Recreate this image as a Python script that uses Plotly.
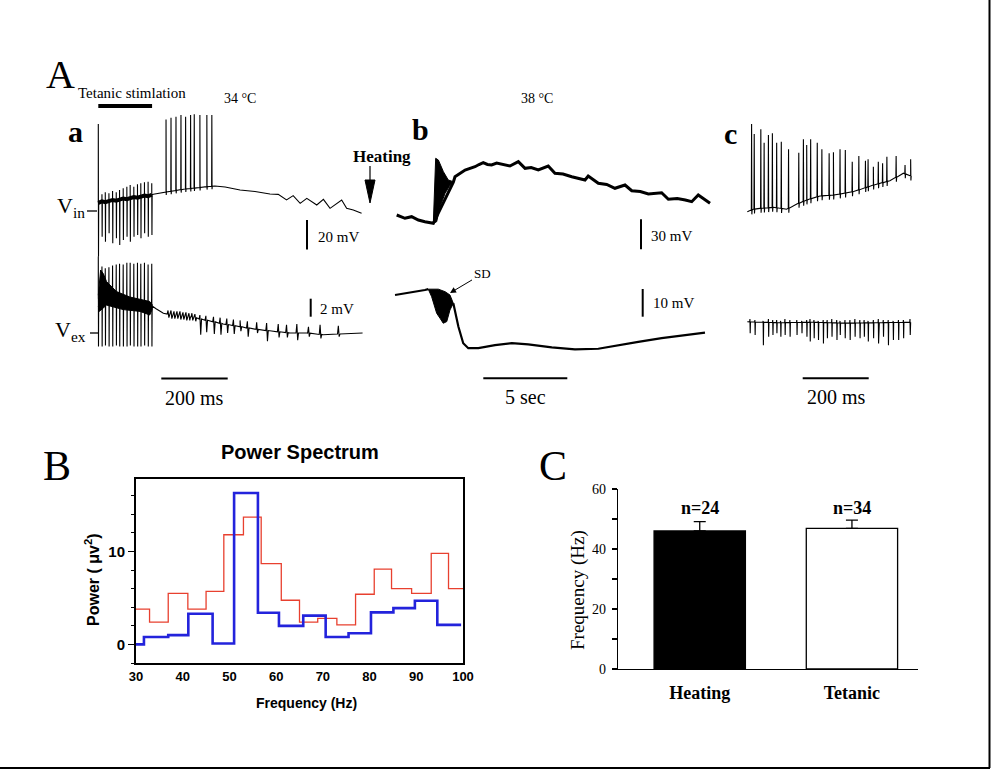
import numpy as np
import plotly.graph_objects as go

W, H = 992, 770
SERIF = "Liberation Serif"
SANS = "Liberation Sans"

# ---------------- Panel A, a : 34 C, tetanic stimulation ----------------
# time in ms, voltage in mV (relative)
stim_t = [0, 11, 21, 32, 43, 54, 64, 75, 86, 96, 107, 118, 128, 139, 150, 161]
stim_base_vin = [5.5, 6.5, 6.0, 7.0, 7.5, 7.0, 8.0, 8.5, 8.0, 9.0, 9.5, 9.0, 10.0, 10.5, 10.0, 11.0]
stim_up_vin = [59, 11.3, 12.7, 12.0, 13.6, 12.7, 14.2, 15.4, 16.5, 17.6, 16.5, 18.1, 18.8, 19.5, 19.9, 18.8]
stim_dn_vin = [-31, -17.4, -20.8, -15.1, -21.9, -18.5, -23.1, -19.7, -17.4, -20.8, -17.4, -16.3, -18.5, -15.1, -17.4, -16.3]
ap_t_a = [204, 219, 234, 249, 263, 278, 289, 306, 327, 342]
ap_peak_a = [62, 63.3, 63.9, 65.1, 63.9, 65.1, 65.6, 65.1, 65.1, 65.1]
vin_a_t = [166, 204, 261, 306, 327, 351, 382, 427, 472, 517, 542, 567, 587, 608, 628, 658, 678, 698, 733, 748, 768, 793]
vin_a_v = [11.3, 12.9, 14.9, 15.9, 16.5, 16.9, 16.3, 14.2, 13.2, 11.5, 11.3, 7.5, 10.4, 5.2, 8.6, 4.1, 7.9, 1.8, 7.5, 1.8, 0.7, -1.6]

band_up_t = [0, 7, 15, 25, 55, 95, 155, 162]
band_up_v = [4.2, 7.0, 6.6, 5.7, 4.6, 4.0, 3.5, 3.2]
band_lo_t = [0, 3, 25, 75, 126, 155, 162]
band_lo_v = [3.0, 2.4, 3.1, 2.6, 2.4, 2.0, 2.6]
vex_a_t = [0, 40, 80, 120, 162, 174, 196, 226, 276, 327, 376, 427, 475, 526, 577, 628, 677, 728, 796]
vex_a_v = [3.8, 3.8, 3.3, 3.0, 3.0, 2.7, 2.2, 2.0, 1.8, 1.4, 1.0, 0.7, 0.4, 0.2, 0.0, 0.0, -0.2, -0.1, 0.0]
stim_up_vex = [8.5, 7.4, 7.2, 7.3, 7.5, 7.6, 7.7, 7.6, 7.8, 7.8, 7.7, 7.8, 7.7, 7.8, 7.6, 7.7]
stim_dn_vex = [-1.5, -1.5, -1.4, -1.5, -1.5, -1.4, -1.5, -1.5, -1.5, -1.4, -1.5, -1.5, -1.5, -1.4, -1.5, -1.5]
rip_t = [210, 219, 228, 237, 246, 255, 264, 273, 282, 291]
rip_up = [2.5, 2.5, 2.4, 2.4, 2.4, 2.3, 2.3, 2.2, 2.2, 2.1]
rip_dn = [1.7, 1.6, 1.6, 1.6, 1.5, 1.5, 1.4, 1.4, 1.4, 1.3]
exsp_t = [306, 324, 347, 367, 387, 407, 427, 449, 477, 507, 542, 567, 598, 633, 668, 723]
exsp_up = [2.0, 1.9, 1.8, 1.7, 1.6, 1.5, 1.4, 1.3, 1.2, 1.1, 1.0, 0.9, 1.0, 0.7, 0.9, 0.8]
exsp_dn = [-0.2, 0.1, -0.1, -0.2, 0.0, -0.1, 0.2, -0.4, 0.0, -0.9, -0.5, -0.5, -0.8, -0.4, -0.6, -0.4]

# ---------------- Panel A, b : 38 C, heating (time in s) ----------------
bvin_t = [0, 0.49, 0.89, 1.29, 1.68, 2.18, 3.37, 3.47, 4.07, 4.66, 4.9, 5.15, 5.4, 5.65, 5.95, 6.25, 6.5, 6.74,
          7.24, 7.64, 8.0, 8.43, 9.02, 9.42, 9.9, 10.42, 11.21, 11.40, 12.0, 12.5, 12.99, 13.59, 13.99, 14.5,
          14.98, 15.77, 16.17, 16.7, 17.18, 17.56, 17.95, 18.35, 18.65]
bvin_v = [8, 4.7, 6.3, 3, 1.3, -0.3, 40.8, 46.3, 53, 56.3, 58.5, 60.3, 58.5, 58, 60, 59, 58.5, 57,
          61.3, 54.7, 55.5, 53, 57, 49.7, 49, 46.3, 43, 47, 39.7, 38.5, 34.7, 38, 32.3, 31.5,
          29, 30.3, 23.7, 24.5, 23, 21.3, 28, 23, 19.7]
bvin_burst_top_t = [2.18, 2.32, 2.48, 2.78, 3.07, 3.37]
bvin_burst_top_v = [-0.3, 64.7, 63, 51.3, 43, 41.3]
bvin_burst_bot_t = [2.18, 2.38, 2.58, 2.88, 3.18, 3.37]
bvin_burst_bot_v = [-0.3, 1.3, 16.3, 29.7, 38, 40.3]

bvex_pre_t = [-0.1, 0.4, 0.89, 1.3, 1.68, 1.88]
bvex_pre_v = [0, 0.5, 0.8, 1.3, 1.8, 2.1]
bvex_burst_top_t = [1.88, 2.48, 2.88, 3.17, 3.37]
bvex_burst_top_v = [2.1, 2.1, 1.2, 0.0, -3.0]
bvex_burst_bot_t = [1.88, 2.08, 2.38, 2.58, 2.77, 2.98, 3.17, 3.37]
bvex_burst_bot_v = [2.1, -0.6, -6.6, -8.4, -10.2, -9.6, -5.4, -3.0]
bvex_post_t = [3.37, 3.67, 3.96, 4.26, 4.86, 5.85, 6.85, 7.83, 9.23, 10.61, 12.0, 13.19, 14.38, 15.77, 17.16, 18.35]
bvex_post_v = [-3.0, -11.4, -17.4, -19.2, -19.2, -18.1, -17.4, -17.8, -18.9, -19.6, -19.4, -18.1, -16.9, -15.6, -14.4, -13.6]

# ---------------- Panel A, c : tetanic (time in ms) ----------------
cvin_base_t = [0, 18, 38, 79, 119, 150, 180, 220, 261, 321, 382, 432, 473, 495]
cvin_base_v = [-0.5, 1.2, 1.8, 2.5, 1.2, 4.7, 7.5, 10.2, 10.8, 13.1, 17.6, 20.5, 25.6, 23.7]
cvin_sp_t = [13, 21, 41, 51, 64, 76, 89, 103, 125, 156, 170, 180, 192, 212, 226, 248, 261, 281, 297, 318,
             338, 358, 366, 382, 397, 410, 423, 451, 478, 495]
cvin_sp_v = [59, 52.2, 55.4, 46.3, 51.5, 52.7, 46.3, 47, 41.8, 39.5, 48.6, 44.7, 48.6, 46.3, 41.8, 39.1, 39.8,
             41.8, 41.4, 33.4, 37.3, 34.1, 35.1, 30, 33.4, 32.3, 36.8, 37.3, 31.2, 35.1]
cvex_base_t = [0, 100, 200, 300, 400, 495]
cvex_base_v = [0.1, 0.0, 0.05, -0.05, 0.0, 0.05]
cvex_sp_t = [8, 23, 48, 64, 77, 89, 101, 114, 129, 150, 165, 180, 190, 202, 215, 230, 242, 256, 271, 281,
             296, 311, 326, 341, 354, 366, 382, 397, 412, 427, 442, 458, 473, 493]
cvex_sp_up = [0.4, 0.3, 0.2, 0.4, 0.3, 0.3, 0.2, 0.4, 0.3, 0.3, 0.2, 0.3, 0.4, 0.3, 0.2, 0.3, 0.3, 0.4, 0.3,
              0.2, 0.3, 0.3, 0.4, 0.3, 0.3, 0.2, 0.3, 0.4, 0.3, 0.3, 0.2, 0.3, 0.3, 0.4]
cvex_sp_dn = [-1.18, -1.37, -2.5, -1.56, -1.37, -1.18, -1.56, -1.37, -1.56, -1.37, -1.18, -1.56, -2.1, -1.74,
              -1.92, -2.3, -1.74, -1.56, -1.92, -1.37, -1.74, -1.92, -1.56, -1.74, -1.56, -2.1, -1.74, -2.3,
              -1.56, -2.5, -1.92, -1.92, -1.74, -1.37]

# ---------------- Panel B : power spectrum ----------------
red_f = [30, 32.9, 36.9, 41.1, 45, 48.8, 53, 56.8, 61.1, 65, 68.9, 73, 77, 81, 84.7, 89, 93.2, 96.9, 100]
red_p = [3.8, 2.4, 5.5, 3.8, 5.7, 11.8, 13.7, 8.7, 4.75, 2.4, 2.8, 2.1, 5.4, 8.1, 6.0, 5.5, 9.8, 6.0, 6.0]
blue_f = [30, 31.7, 36.9, 41.2, 46.4, 51, 56.1, 60.6, 65.8, 70.6, 75.5, 80.3, 85.1, 89.7, 94.5, 99.6]
blue_p = [0, 0.8, 1.0, 3.3, 0.1, 16.3, 3.4, 2.0, 3.1, 0.8, 1.2, 3.45, 3.9, 4.7, 2.1, 2.1]

# ---------------- Panel C : frequency bars ----------------
c_cats = ["Heating", "Tetanic"]
c_mean = [46.0, 46.9]
c_err = [3.1, 2.7]
c_n = ["n=24", "n=34"]

# scale bar values
A_IN_MV, A_EX_MV, B_IN_MV, B_EX_MV = 20, 2, 30, 10
A_MS, B_S, C_MS = 200, 5, 200
TETANUS_MS = 162


# ---------------- helpers ----------------
def events_trace(base_t, base_v, ev_t, ev_hi, ev_lo, dt, ahp=2.0):
    pts = [(t, v, 0) for t, v in zip(base_t, base_v)]
    dts = dt if isinstance(dt, (list, tuple)) else [dt] * len(ev_t)
    for i, (t, hi) in enumerate(zip(ev_t, ev_hi)):
        b = float(np.interp(t, base_t, base_v))
        lo = ev_lo[i] if ev_lo is not None else b - ahp
        d = dts[i]
        pts += [(t - d, b, 1), (t, hi, 2), (t + d, lo, 3), (t + 2 * d, b, 4)]
    pts.sort(key=lambda p: (p[0], p[2]))
    return [p[0] for p in pts], [p[1] for p in pts]


# pixel geometry of the hidden trace axes: (origin px, px per unit)
AX_A = (98.3, 0.332); AY_AIN = (211, 1.475); AY_AEX = (333, 9.0)
AX_B = (396.7, 16.8); AY_BIN = (223, 1.0); AY_BEX = (295, 2.77)
AX_C = (747.3, 0.33); AY_CIN = (211, 1.475); AY_CEX = (322.7, 9.0)


def hax(px0, px1, ax, anchor):
    o, k = ax
    return dict(domain=[px0 / W, px1 / W], range=[(px0 - o) / k, (px1 - o) / k], visible=False,
                anchor=anchor, fixedrange=True, automargin=False)


def vax(py0, py1, ay, anchor):
    o, k = ay
    return dict(domain=[1 - py1 / H, 1 - py0 / H], range=[(o - py1) / k, (o - py0) / k], visible=False,
                anchor=anchor, fixedrange=True, automargin=False)


def dx(px, ax):
    return (px - ax[0]) / ax[1]


def dy(py, ay):
    return (ay[0] - py) / ay[1]


def PX(x):
    return x / W


def PY(y):
    return 1 - y / H


fig = go.Figure()

# a - Vin
ahp_lo = [float(v) - 2.0 for v in np.interp(ap_t_a, vin_a_t, vin_a_v)]
x, y = events_trace(stim_t + vin_a_t, stim_base_vin + vin_a_v,
                    stim_t + ap_t_a, stim_up_vin + ap_peak_a, stim_dn_vin + ahp_lo, 0.6)
fig.add_trace(go.Scatter(x=x, y=y, mode="lines", line=dict(color="black", width=1.1), xaxis="x", yaxis="y"))
fig.add_trace(go.Scatter(x=stim_t, y=stim_base_vin, mode="lines", line=dict(color="black", width=4),
                         xaxis="x", yaxis="y"))
# a - Vex
fig.add_trace(go.Scatter(x=band_up_t + band_lo_t[::-1], y=band_up_v + band_lo_v[::-1], fill="toself",
                         fillcolor="black", mode="lines", line=dict(color="black", width=1),
                         xaxis="x2", yaxis="y2"))
x, y = events_trace(vex_a_t, vex_a_v, stim_t + rip_t + exsp_t, stim_up_vex + rip_up + exsp_up,
                    stim_dn_vex + rip_dn + exsp_dn,
                    [0.6] * len(stim_t) + [2.5] * len(rip_t) + [2.5] * len(exsp_t))
fig.add_trace(go.Scatter(x=x, y=y, mode="lines", line=dict(color="black", width=1.1), xaxis="x2", yaxis="y2"))

# b - Vin
fig.add_trace(go.Scatter(x=bvin_t, y=bvin_v, mode="lines", line=dict(color="black", width=3),
                         xaxis="x3", yaxis="y3"))
fig.add_trace(go.Scatter(x=bvin_burst_top_t + bvin_burst_bot_t[::-1], y=bvin_burst_top_v + bvin_burst_bot_v[::-1],
                         fill="toself", fillcolor="black", mode="lines", line=dict(color="black", width=1),
                         xaxis="x3", yaxis="y3"))
# b - Vex
fig.add_trace(go.Scatter(x=bvex_pre_t, y=bvex_pre_v, mode="lines", line=dict(color="black", width=2.2),
                         xaxis="x4", yaxis="y4"))
fig.add_trace(go.Scatter(x=bvex_burst_top_t + bvex_burst_bot_t[::-1], y=bvex_burst_top_v + bvex_burst_bot_v[::-1],
                         fill="toself", fillcolor="black", mode="lines", line=dict(color="black", width=1),
                         xaxis="x4", yaxis="y4"))
fig.add_trace(go.Scatter(x=bvex_post_t, y=bvex_post_v, mode="lines", line=dict(color="black", width=2.2),
                         xaxis="x4", yaxis="y4"))

# c - Vin / Vex
x, y = events_trace(cvin_base_t, cvin_base_v, cvin_sp_t, cvin_sp_v, None, 0.8, ahp=3.0)
fig.add_trace(go.Scatter(x=x, y=y, mode="lines", line=dict(color="black", width=1.1), xaxis="x5", yaxis="y5"))
x, y = events_trace(cvex_base_t, cvex_base_v, cvex_sp_t, cvex_sp_up, cvex_sp_dn, 0.8)
fig.add_trace(go.Scatter(x=x, y=y, mode="lines", line=dict(color="black", width=1.1), xaxis="x6", yaxis="y6"))

# B - power spectrum
fig.add_trace(go.Scatter(x=red_f, y=red_p, mode="lines", line=dict(color="#e8402f", width=1.3, shape="hv"),
                         xaxis="x7", yaxis="y7"))
fig.add_trace(go.Scatter(x=blue_f, y=blue_p, mode="lines", line=dict(color="#2323dc", width=2.6, shape="hv"),
                         xaxis="x7", yaxis="y7"))

# C - bars
fig.add_trace(go.Bar(x=c_cats, y=c_mean, width=0.6, marker=dict(color=["black", "white"],
                     line=dict(color="black", width=1.3)),
                     error_y=dict(type="data", array=c_err, arrayminus=[0, 0], symmetric=False,
                                  color="black", thickness=1.3, width=6),
                     xaxis="x8", yaxis="y8"))

shapes = []
# vertical mV scale bars
for xa, ya, xref, yref, bx, bottom, val in [
    (AX_A, AY_AIN, "x", "y", 307, 249.5, A_IN_MV),
    (AX_A, AY_AEX, "x2", "y2", 310.7, 316.7, A_EX_MV),
    (AX_B, AY_BIN, "x3", "y3", 641, 249.3, B_IN_MV),
    (AX_B, AY_BEX, "x4", "y4", 642.7, 316.7, B_EX_MV),
]:
    y0 = dy(bottom, ya)
    shapes.append(dict(type="line", xref=xref, yref=yref, x0=dx(bx, xa), x1=dx(bx, xa), y0=y0, y1=y0 + val,
                       line=dict(color="black", width=2)))
# horizontal time scale bars
for xa, xref, bx, by, val in [(AX_A, "x2", 161.3, 378.5, A_MS), (AX_B, "x4", 483.3, 378.3, B_S),
                              (AX_C, "x6", 802.7, 378.3, C_MS)]:
    x0 = dx(bx, xa)
    shapes.append(dict(type="line", xref=xref, yref="paper", x0=x0, x1=x0 + val, y0=PY(by), y1=PY(by),
                       line=dict(color="black", width=2)))
# tetanic stimulation bar
shapes.append(dict(type="line", xref="x", yref="paper", x0=0, x1=TETANUS_MS, y0=PY(106), y1=PY(106),
                   line=dict(color="black", width=4)))
# V level ticks
shapes.append(dict(type="line", xref="x", yref="y", x0=dx(87, AX_A), x1=dx(97, AX_A), y0=0, y1=0,
                   line=dict(color="black", width=1.3)))
shapes.append(dict(type="line", xref="x2", yref="y2", x0=dx(90, AX_A), x1=dx(98, AX_A), y0=0, y1=0,
                   line=dict(color="black", width=1.3)))
# heating arrow
shapes.append(dict(type="line", xref="paper", yref="paper", x0=PX(370), x1=PX(370), y0=PY(166), y1=PY(182),
                   line=dict(color="black", width=1.2)))
shapes.append(dict(type="path", xref="paper", yref="paper",
                   path=f"M {PX(365)},{PY(180)} L {PX(375)},{PY(180)} L {PX(370)},{PY(203)} Z",
                   fillcolor="black", line=dict(color="black", width=1)))
# frame lines (right, bottom)
shapes.append(dict(type="line", xref="paper", yref="paper", x0=PX(989.5), x1=PX(989.5), y0=1, y1=PY(768),
                   line=dict(color="black", width=2)))
shapes.append(dict(type="line", xref="paper", yref="paper", x0=0, x1=PX(990), y0=PY(768), y1=PY(768),
                   line=dict(color="black", width=2)))

ann = []


def T(text, x, y, size, family=SERIF, bold=False, xanchor="center", angle=0, yanchor="middle"):
    ann.append(dict(text=text, x=PX(x), y=PY(y), xref="paper", yref="paper", showarrow=False,
                    xanchor=xanchor, yanchor=yanchor, textangle=angle,
                    font=dict(family=family, size=size, color="black", weight="bold" if bold else "normal")))


T("A", 60, 75, 40)
T("Tetanic stimlation", 132, 93, 15)
T("34 \u00b0C", 240, 99, 14)
T("38 \u00b0C", 537, 99, 14)
T("a", 75, 131, 30, bold=True)
T("b", 420, 130, 30, bold=True)
T("c", 730, 133, 30, bold=True)
T("Heating", 382, 156, 17, bold=True)
T("V<sub>in</sub>", 87, 207, 22, xanchor="right")
T("V<sub>ex</sub>", 88, 331, 22, xanchor="right")
T("20 mV", 316, 237, 15, xanchor="left")
T("2 mV", 318, 309, 15, xanchor="left")
T("30 mV", 649, 236, 15, xanchor="left")
T("10 mV", 651, 303, 15, xanchor="left")
T("200 ms", 194, 398, 20)
T("5 sec", 525, 397, 20)
T("200 ms", 836, 397, 20)
T("B", 57, 466, 42)
T("Power Spectrum", 300, 452, 20, family=SANS, bold=True)
T("Power ( \u03bcv<sup>2</sup>)", 92, 580, 16, family=SANS, bold=True, angle=-90)
T("Frequency (Hz)", 306, 703, 14, family=SANS, bold=True)
T("C", 553, 466, 42)
T("Frequency (Hz)", 578, 590, 19, angle=-90)
ann.append(dict(text="SD", x=PX(450), y=PY(293), xref="paper", yref="paper", showarrow=True,
                ax=32, ay=-19, arrowhead=2, arrowsize=1.2, arrowwidth=1, arrowcolor="black",
                font=dict(family=SERIF, size=13, color="black")))
for cat, lab in zip(c_cats, c_n):
    ann.append(dict(text=lab, x=cat, y=53.7, xref="x8", yref="y8", showarrow=False,
                    font=dict(family=SERIF, size=18, color="black", weight="bold")))

fig.update_layout(
    width=W, height=H, margin=dict(l=0, r=0, t=0, b=0, pad=0, autoexpand=False), autosize=False,
    paper_bgcolor="white", plot_bgcolor="rgba(0,0,0,0)", showlegend=False, hovermode=False,
    xaxis=hax(85, 372, AX_A, "y"), yaxis=vax(100, 262, AY_AIN, "x"),
    xaxis2=hax(85, 372, AX_A, "y2"), yaxis2=vax(248, 352, AY_AEX, "x2"),
    xaxis3=hax(385, 722, AX_B, "y3"), yaxis3=vax(140, 262, AY_BIN, "x3"),
    xaxis4=hax(385, 722, AX_B, "y4"), yaxis4=vax(265, 360, AY_BEX, "x4"),
    xaxis5=hax(740, 922, AX_C, "y5"), yaxis5=vax(115, 262, AY_CIN, "x5"),
    xaxis6=hax(740, 922, AX_C, "y6"), yaxis6=vax(300, 360, AY_CEX, "x6"),
    xaxis7=dict(domain=[136 / W, 463 / W], range=[30, 100], anchor="y7", showline=True, mirror=True,
                linecolor="black", linewidth=2, showgrid=False, zeroline=False, tick0=30, dtick=10,
                ticks="", ticklabelstandoff=0, automargin=False,
                tickfont=dict(family=SANS, size=13, color="black", weight="bold")),
    yaxis7=dict(domain=[1 - 663 / H, 1 - 479 / H], range=[-2, 17.8], anchor="x7", showline=True, mirror=True,
                linecolor="black", linewidth=2, showgrid=False, zeroline=False, tick0=0, dtick=10,
                ticks="outside", ticklen=6, tickwidth=1.5, tickcolor="black", automargin=False,
                minor=dict(dtick=2, tick0=0, ticks="outside", ticklen=3, tickwidth=1, tickcolor="black"),
                tickfont=dict(family=SANS, size=15, color="black", weight="bold")),
    xaxis8=dict(domain=[618 / W, 918 / W], range=[-0.537, 1.434], anchor="y8", showline=True,
                linecolor="black", linewidth=1.3, showgrid=False, zeroline=False, ticks="", automargin=False,
                ticklabelstandoff=7, tickfont=dict(family=SERIF, size=18, color="black", weight="bold")),
    yaxis8=dict(domain=[1 - 669 / H, 1 - 489 / H], range=[0, 60], anchor="x8", showline=True,
                linecolor="black", linewidth=1.3, showgrid=False, zeroline=False, tick0=0, dtick=20,
                ticks="outside", ticklen=5, tickwidth=1.2, tickcolor="black", automargin=False,
                minor=dict(dtick=10, tick0=0, ticks="outside", ticklen=5, tickwidth=1.2, tickcolor="black"),
                ticklabelstandoff=3, tickfont=dict(family=SERIF, size=14, color="black")),
    shapes=shapes, annotations=ann,
)

# the page body keeps no default margin so the 992x770 figure fills the window exactly
fig.write_html("out.html", config={"displayModeBar": False, "staticPlot": True},
               post_script="document.body.style.margin='0px';")
